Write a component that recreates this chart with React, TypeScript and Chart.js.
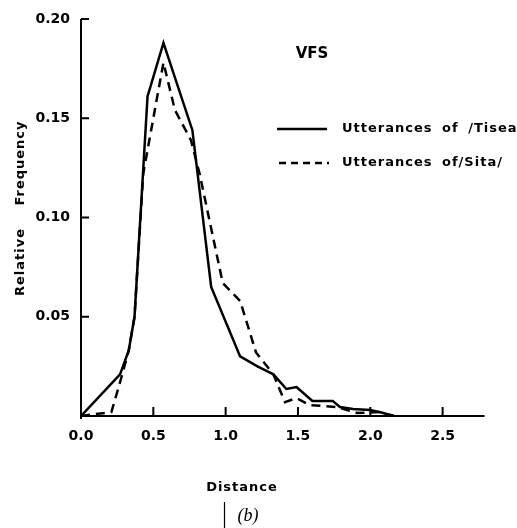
import React, { useEffect, useRef } from 'react';
import { Chart, registerables } from 'chart.js';

Chart.register(...registerables);

// Utterances of /Tisea/ (solid)
const tiseaX = [0, 0.27, 0.33, 0.37, 0.46, 0.57, 0.77, 0.9, 1.1, 1.22, 1.33, 1.42, 1.49, 1.6, 1.74, 1.79, 1.88, 2.0, 2.09, 2.15];
const tiseaY = [0, 0.021, 0.033, 0.05, 0.161, 0.188, 0.144, 0.065, 0.03, 0.025, 0.021, 0.0136, 0.0146, 0.0076, 0.0076, 0.0045, 0.0035, 0.003, 0.0015, 0];

// Utterances of /Sita/ (dashed)
const sitaX = [0, 0.21, 0.27, 0.33, 0.37, 0.43, 0.57, 0.65, 0.76, 0.82, 0.98, 1.1, 1.21, 1.33, 1.41, 1.49, 1.58, 1.77, 1.91, 2.06, 2.17];
const sitaY = [0, 0.002, 0.017, 0.033, 0.05, 0.122, 0.178, 0.154, 0.139, 0.122, 0.067, 0.058, 0.032, 0.021, 0.007, 0.009, 0.0055, 0.0045, 0.0015, 0.002, 0];

const xTicks = [0, 0.5, 1.0, 1.5, 2.0, 2.5];
const yTicks = [0.05, 0.1, 0.15, 0.2];
const seriesLabels = ['Utterances of /Tisea/', 'Utterances of/Sita/'];
const panelTitle = 'VFS';
const xTitle = 'Distance';
const yTitleWords = ['Relative', 'Frequency'];
const panelTag = '(b)';

const FONT = '"DejaVu Sans", sans-serif';

const decorPlugin = {
  id: 'decor',
  afterDraw(chart: any) {
    const ctx = chart.ctx as CanvasRenderingContext2D;
    const xs = chart.scales.x;
    const ys = chart.scales.y;
    const x0 = xs.getPixelForValue(0);
    const xEnd = xs.getPixelForValue(2.79);
    const y0 = ys.getPixelForValue(0);
    const yTop = ys.getPixelForValue(0.2);
    ctx.save();
    ctx.strokeStyle = '#000';
    ctx.fillStyle = '#000';
    ctx.lineWidth = 2;
    ctx.lineCap = 'butt';
    // axes
    ctx.beginPath();
    ctx.moveTo(x0, yTop);
    ctx.lineTo(x0, y0 + 3);
    ctx.moveTo(x0 - 1, y0);
    ctx.lineTo(xEnd, y0);
    ctx.stroke();
    // inward ticks
    ctx.beginPath();
    for (const v of yTicks) {
      const py = ys.getPixelForValue(v);
      ctx.moveTo(x0, py);
      ctx.lineTo(x0 + 8, py);
    }
    for (const v of xTicks) {
      if (v === 0) continue;
      const px = xs.getPixelForValue(v);
      ctx.moveTo(px, y0);
      ctx.lineTo(px, y0 - 9);
    }
    ctx.stroke();

    // panel title
    ctx.font = `bold 15px ${FONT}`;
    ctx.textAlign = 'center';
    ctx.textBaseline = 'middle';
    ctx.fillText(panelTitle, 312, 54);

    // legend
    (ctx as any).letterSpacing = '1px';
    (ctx as any).wordSpacing = '4px';
    ctx.font = `bold 13px ${FONT}`;
    ctx.textAlign = 'left';
    ctx.lineWidth = 2.5;
    ctx.beginPath();
    ctx.setLineDash([]);
    ctx.moveTo(277, 129);
    ctx.lineTo(327, 129);
    ctx.stroke();
    ctx.fillText(seriesLabels[0], 342, 129);
    ctx.beginPath();
    ctx.setLineDash([7, 5]);
    ctx.moveTo(279, 163);
    ctx.lineTo(329, 163);
    ctx.stroke();
    ctx.setLineDash([]);
    ctx.fillText(seriesLabels[1], 342, 163);
    (ctx as any).wordSpacing = '0px';

    // x title
    ctx.textAlign = 'center';
    ctx.fillText(xTitle, 242, 488);

    // y title
    ctx.save();
    ctx.translate(21, 0);
    ctx.rotate(-Math.PI / 2);
    ctx.fillText(yTitleWords[0], -262, 0);
    ctx.fillText(yTitleWords[1], -163, 0);
    ctx.restore();
    (ctx as any).letterSpacing = '0px';

    // panel tag
    ctx.lineWidth = 1.2;
    ctx.beginPath();
    ctx.moveTo(224.5, 502);
    ctx.lineTo(224.5, 528);
    ctx.stroke();
    ctx.font = `italic 18px "Liberation Serif", "DejaVu Serif", serif`;
    ctx.textAlign = 'center';
    ctx.fillText(panelTag, 248, 516);
    ctx.restore();
  },
};

export default function App() {
  const ref = useRef<HTMLCanvasElement | null>(null);
  useEffect(() => {
    document.body.style.margin = '0';
    const canvas = ref.current;
    if (!canvas) return;
    const chart = new Chart(canvas, {
      type: 'line',
      data: {
        datasets: [
          {
            label: seriesLabels[0],
            data: tiseaX.map((x, i) => ({ x, y: tiseaY[i] })),
            borderColor: '#000',
            borderWidth: 2.5,
            pointRadius: 0,
            tension: 0,
            fill: false,
          },
          {
            label: seriesLabels[1],
            data: sitaX.map((x, i) => ({ x, y: sitaY[i] })),
            borderColor: '#000',
            borderWidth: 2.5,
            borderDash: [9, 6],
            pointRadius: 0,
            tension: 0,
            fill: false,
          },
        ],
      },
      options: {
        animation: false,
        responsive: false,
        devicePixelRatio: 1,
        layout: { padding: { top: 19, right: 31, bottom: 0, left: 0 } },
        plugins: { legend: { display: false }, tooltip: { enabled: false }, title: { display: false } },
        scales: {
          x: {
            type: 'linear',
            min: 0,
            max: 2.8,
            grid: { display: false },
            border: { display: false },
            afterBuildTicks: (scale: any) => {
              scale.ticks = xTicks.map((v) => ({ value: v }));
            },
            afterFit: (scale: any) => {
              scale.height = 112;
            },
            ticks: {
              autoSkip: false,
              maxRotation: 0,
              padding: 4,
              color: '#000',
              font: { family: FONT, weight: 'bold', size: 14 },
              callback: (v: any) => Number(v).toFixed(1),
            },
          },
          y: {
            type: 'linear',
            min: 0,
            max: 0.2,
            grid: { display: false },
            border: { display: false },
            afterBuildTicks: (scale: any) => {
              scale.ticks = yTicks.map((v) => ({ value: v }));
            },
            afterFit: (scale: any) => {
              scale.width = 81;
            },
            ticks: {
              autoSkip: false,
              padding: 3,
              color: '#000',
              font: { family: FONT, weight: 'bold', size: 14 },
              callback: (v: any) => Number(v).toFixed(2),
            },
          },
        },
      },
      plugins: [decorPlugin],
    } as any);
    return () => chart.destroy();
  }, []);
  return (
    <div style={{ width: 517, height: 528, background: '#fff' }}>
      <canvas ref={ref} width={517} height={528} style={{ display: 'block' }} />
    </div>
  );
}
